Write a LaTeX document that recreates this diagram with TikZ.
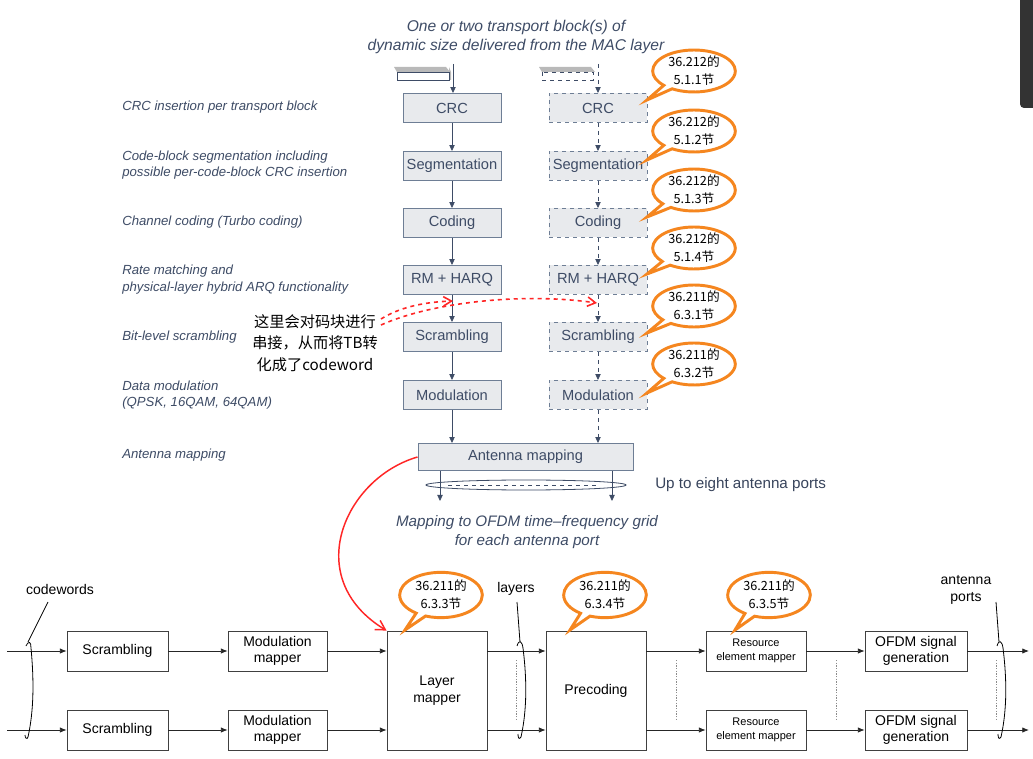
\documentclass[tikz,border=0pt]{standalone}
\usepackage{fontspec}
\setmainfont{Liberation Sans}
\newfontfamily\cjk{Noto Sans CJK SC}
\usetikzlibrary{arrows.meta,shapes.geometric,shapes.callouts,calc}
\definecolor{slate}{HTML}{3E4C66}
\definecolor{boxline}{HTML}{6E7E95}
\definecolor{boxfill}{HTML}{E8EAED}
\definecolor{orng}{HTML}{F5861F}
\definecolor{redc}{HTML}{FF2626}
\tikzset{
  procbox/.style={draw=boxline, line width=0.7pt, fill=boxfill, minimum width=73.5pt, minimum height=21.75pt, inner sep=0pt, text=slate, font=\fontsize{11}{12}\selectfont},
  dbox/.style={procbox, dashed},
  sarr/.style={draw=slate, line width=0.6pt, -{Triangle[length=4.5pt,width=4pt]}},
  darr/.style={sarr, dashed},
  leftlab/.style={anchor=west, align=left, text=slate, font=\fontsize{9.9}{12.2}\selectfont\itshape, inner sep=0pt},
  bub/.style={ellipse callout, draw=orng, line width=2.2pt, fill=white, minimum width=62pt, minimum height=31pt, inner sep=0pt, align=center, font=\cjk\fontsize{9.5}{13.5}\selectfont},
  bbub/.style={bub, minimum height=34pt},
  bbox/.style={draw=black!75, line width=0.6pt, fill=white, inner sep=0pt, align=center, font=\fontsize{10.5}{12.5}\selectfont},
  barr/.style={draw=black!85, line width=0.6pt, -{Latex[length=5pt,width=4pt]}},
  vdots/.style={draw=black!45, line width=0.5pt, dash pattern=on 1pt off 1pt},
  brace/.style={draw=black, line width=0.6pt},
  redarr/.style={draw=redc, line width=1.2pt, -{Straight Barb[length=6pt,width=7pt]}},
}
\begin{document}
\begin{tikzpicture}[x=0.75pt,y=-0.75pt]
\useasboundingbox (0,0) rectangle (1033,759);
\fill[white] (0,0) rectangle (1033,759);
% screen artifact bar
\fill[black!80, rounded corners=3pt] (1020,-10) rectangle (1045,108);

% title
\node[text=slate, font=\fontsize{11.7}{14.5}\selectfont\itshape, align=center] (title) at (516,37)
  {One or two transport block(s) of\\dynamic size delivered from the MAC layer};

% transport block icons
\fill[gray!55] (394,67) -- (446,67) -- (450,72) -- (397,72) -- cycle;
\fill[gray!55] (449,67) -- (451,72) -- (451,80) -- (449,80) -- cycle;
\draw[slate, line width=0.7pt, fill=white] (397,72) rectangle (449,80);
\fill[gray!55] (539,67) -- (591,67) -- (595,72) -- (542,72) -- cycle;
\draw[slate, line width=0.7pt, fill=white, dashed] (542,72) rectangle (593,80);

% left column
\node[procbox] (crcL) at (452,108) {CRC};
\node[procbox] (segL) at (452,166) {Segmentation};
\node[procbox] (codL) at (452,223) {Coding};
\node[procbox] (rmL)  at (452,280) {RM + HARQ};
\node[procbox] (scrL) at (452,337) {Scrambling};
\node[procbox] (modL) at (452,395) {Modulation};
% right column
\node[dbox] (crcR) at (598,108) {CRC};
\node[dbox] (segR) at (598,166) {Segmentation};
\node[dbox] (codR) at (598,223) {Coding};
\node[dbox] (rmR)  at (598,280) {RM + HARQ};
\node[dbox] (scrR) at (598,337) {Scrambling};
\node[dbox] (modR) at (598,395) {Modulation};
% antenna mapping
\node[procbox, minimum width=161.25pt, minimum height=20.25pt] (ant) at (525.5,457) {Antenna mapping};

\coordinate (tbL) at (453,64);
\coordinate (tbR) at (598,64);
\draw[sarr] (tbL) -- (tbL |- crcL.north);
\draw[darr] (tbR) -- (tbR |- crcR.north);
\foreach \a/\b in {crcL/segL,segL/codL,codL/rmL,rmL/scrL,scrL/modL}{
  \draw[sarr] (\a.south) -- (\b.north);}
\foreach \a/\b in {crcR/segR,segR/codR,codR/rmR,rmR/scrR,scrR/modR}{
  \draw[darr] (\a.south) -- (\b.north);}
\draw[sarr] (modL.south) -- (modL.south |- ant.north);
\draw[darr] (modR.south) -- (modR.south |- ant.north);

% antenna outputs
\coordinate (ao1) at (440,501);
\coordinate (ao2) at (612,501);
\draw[sarr] (ant.south -| ao1) -- (ao1);
\draw[sarr] (ant.south -| ao2) -- (ao2);
\node[draw=slate, line width=0.6pt, ellipse, minimum width=150pt, minimum height=7.5pt, inner sep=0pt] (ell) at (526,485) {};
\draw[slate, line width=0.4pt, dashed] (448,485) -- (598,485);
\node[anchor=west, text=slate!90!black, font=\fontsize{11.4}{13}\selectfont, inner sep=0pt] (upto) at (655,485) {Up to eight antenna ports};
\node[text=slate, font=\fontsize{11.4}{14.5}\selectfont\itshape, align=center] (grid) at (527,532)
  {Mapping to OFDM time--frequency grid\\for each antenna port};

% left labels
\node[leftlab] (l1) at (122,107) {CRC insertion per transport block};
\node[leftlab] (l2) at (122,165) {Code-block segmentation including\\possible per-code-block CRC insertion};
\node[leftlab] (l3) at (122,222) {Channel coding (Turbo coding)};
\node[leftlab] (l4) at (122,279.5) {Rate matching and\\physical-layer hybrid ARQ functionality};
\node[leftlab] (l5) at (122,337) {Bit-level scrambling};
\node[leftlab] (l6) at (122,395) {Data modulation\\(QPSK, 16QAM, 64QAM)};
\node[leftlab] (l7) at (122,455) {Antenna mapping};

% chinese note
\node[font=\cjk\fontsize{11.4}{16}\selectfont, align=center, inner sep=0pt] (note) at (315,343)
  {这里会对码块进行\\串接，从而将TB转\\化成了codeword};
\coordinate (n1) at (381,319);
\coordinate (n2) at (381,325);
\coordinate (e1) at (453,301);
\coordinate (e2) at (597,303);
\draw[redarr, dashed] (n1) .. controls (400,307) and (425,302) .. (e1);
\draw[redarr, dashed] (n2) .. controls (430,303) and (520,292) .. (e2);

% callouts top
\node[bub, callout absolute pointer={(647,100)}] (c1) at (694,71) {36.212的\\5.1.1节};
\node[bub, callout absolute pointer={(647,160)}] (c2) at (694,131) {36.212的\\5.1.2节};
\node[bub, callout absolute pointer={(647,217)}] (c3) at (694,190) {36.212的\\5.1.3节};
\node[bub, callout absolute pointer={(647,274)}] (c4) at (694,248) {36.212的\\5.1.4节};
\node[bub, callout absolute pointer={(647,333)}] (c5) at (694,306) {36.211的\\6.3.1节};
\node[bub, callout absolute pointer={(647,393)}] (c6) at (694,364) {36.211的\\6.3.2节};

% bottom chain
\node[bbox, minimum width=75.75pt, minimum height=30pt] (scr1) at (117.5,651) {Scrambling};
\node[bbox, minimum width=75.75pt, minimum height=30pt] (scr2) at (117.5,730) {Scrambling};
\node[bbox, minimum width=74.25pt, minimum height=30pt] (mod1) at (277.5,651) {Modulation\\mapper};
\node[bbox, minimum width=74.25pt, minimum height=30pt] (mod2) at (277.5,730) {Modulation\\mapper};
\node[bbox, minimum width=75pt, minimum height=89.25pt] (layer) at (437,690.5) {Layer\\mapper};
\node[bbox, minimum width=75pt, minimum height=89.25pt] (prec) at (596,690.5) {Precoding};
\node[bbox, minimum width=75pt, minimum height=30pt, font=\fontsize{8.25}{10.5}\selectfont] (re1) at (756,651) {Resource\\element mapper};
\node[bbox, minimum width=75pt, minimum height=30pt, font=\fontsize{8.25}{10.5}\selectfont] (re2) at (756,730) {Resource\\element mapper};
\node[bbox, minimum width=76.5pt, minimum height=30pt] (of1) at (916,651) {OFDM signal\\generation};
\node[bbox, minimum width=76.5pt, minimum height=30pt] (of2) at (916,730) {OFDM signal\\generation};

\coordinate (in1) at (7,651);
\coordinate (in2) at (7,730);
\coordinate (out1) at (1029,651);
\coordinate (out2) at (1029,730);
\draw[barr] (in1) -- (scr1.west);
\draw[barr] (in2) -- (scr2.west);
\draw[barr] (scr1.east) -- (mod1.west);
\draw[barr] (scr2.east) -- (mod2.west);
\draw[barr] (mod1.east) -- (mod1.east -| layer.west);
\draw[barr] (mod2.east) -- (mod2.east -| layer.west);
\draw[barr] (mod1.east -| layer.east) -- (mod1.east -| prec.west);
\draw[barr] (mod2.east -| layer.east) -- (mod2.east -| prec.west);
\draw[barr] (re1.west -| prec.east) -- (re1.west);
\draw[barr] (re2.west -| prec.east) -- (re2.west);
\draw[barr] (re1.east) -- (of1.west);
\draw[barr] (re2.east) -- (of2.west);
\draw[barr] (of1.east) -- (out1);
\draw[barr] (of2.east) -- (out2);

\foreach \x in {516,676,836,996}{\draw[vdots] (\x,660) -- (\x,720);}

% braces and labels
\node[font=\fontsize{10.5}{12.5}\selectfont, inner sep=0pt] (cw) at (60,589) {codewords};
\draw[brace] (48,602) -- (28,642);
\draw[brace] (26,646) .. controls (29,640) and (31,642) .. (31,648) .. controls (34,680) and (34,710) .. (28,737) .. controls (27,740) and (25,738) .. (25,735);
\node[font=\fontsize{10.5}{12.5}\selectfont, inner sep=0pt] (ly) at (516,589) {layers};
\draw[brace] (517,602) -- (520,642);
\draw[brace] (517,646) .. controls (519,639) and (522,641) .. (523,648) .. controls (527,680) and (527,710) .. (521,737) .. controls (519,740) and (518,738) .. (518,734);
\node[font=\fontsize{10.5}{12.5}\selectfont, inner sep=0pt, align=center] (ap) at (966,590) {antenna\\ports};
\draw[brace] (996,602) -- (999,642);
\draw[brace] (997,646) .. controls (999,639) and (1002,641) .. (1003,648) .. controls (1007,680) and (1007,710) .. (1001,737) .. controls (999,740) and (998,738) .. (998,734);

% bottom callouts
\node[bbub, callout absolute pointer={(405,630)}] (b1) at (441,595) {36.211的\\6.3.3节};
\node[bbub, callout absolute pointer={(570,630)}] (b2) at (605,595) {36.211的\\6.3.4节};
\node[bbub, callout absolute pointer={(735,630)}] (b3) at (769,595) {36.211的\\6.3.5节};

% red solid curve
\draw[draw=redc, line width=1.1pt, -{Straight Barb[length=7pt,width=8pt]}] (ant.west) .. controls (345,478) and (300,578) .. (layer.north west);
\end{tikzpicture}
\end{document}
